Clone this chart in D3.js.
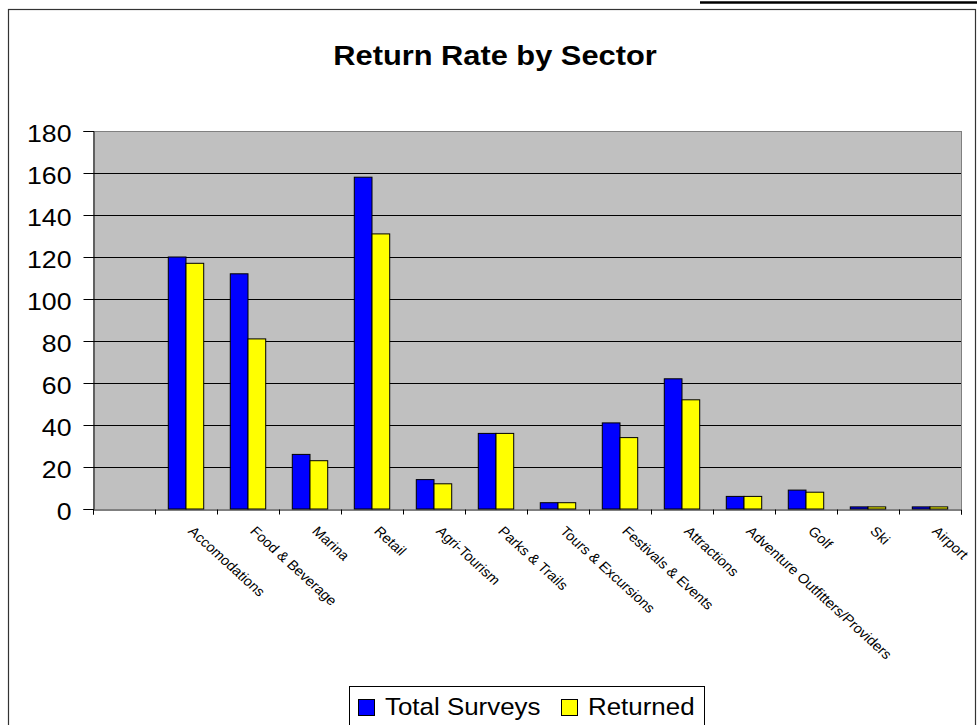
<!DOCTYPE html>
<html><head><meta charset="utf-8">
<script src="https://cdn.jsdelivr.net/npm/d3@7"></script>
<style>body{margin:0;background:#fff}svg{display:block}</style>
</head><body>
<svg id="c" width="977" height="725"></svg>
<script>
const categories = ["", "Accomodations", "Food & Beverage", "Marina", "Retail", "Agri-Tourism", "Parks & Trails", "Tours & Excursions", "Festivals & Events", "Attractions", "Adventure Outfitters/Providers", "Golf", "Ski", "Airport"];
const totalSurveys = [null, 120, 112, 26, 158, 14, 36, 3, 41, 62, 6, 9, 1, 1];
const returned = [null, 117, 81, 23, 131, 12, 36, 3, 34, 52, 6, 8, 1, 1];
const seriesNames = ["Total Surveys", "Returned"];
const seriesColors = ["#0000FF", "#FFFF00"];
const yTicks = [0, 20, 40, 60, 80, 100, 120, 140, 160, 180];
const chartTitle = "Return Rate by Sector";

const FONT = "'Liberation Sans', Arial, Helvetica, sans-serif";
const svg = d3.select("#c");
const L = 93, R = 961, T = 131, B = 509;

// outer frame
svg.append("line").attr("x1", 700).attr("x2", 977).attr("y1", 2.5).attr("y2", 2.5)
  .attr("stroke", "#000").attr("stroke-width", 2.5);
svg.append("rect").attr("x", 8.5).attr("y", 9.5).attr("width", 967).attr("height", 740)
  .attr("fill", "none").attr("stroke", "#333").attr("stroke-width", 1.2);

// title
svg.append("text").attr("transform", "translate(495,65) scale(1.1,1)")
  .attr("text-anchor", "middle").attr("font-family", FONT).attr("font-weight", "bold")
  .attr("font-size", 28).attr("fill", "#000").text(chartTitle);

const x = d3.scaleBand().domain(categories).range([L, R]).padding(0);
const xs = d3.scaleBand().domain(seriesNames).range([0, x.bandwidth()]).paddingInner(0).paddingOuter(0.75);
const y = d3.scaleLinear().domain([0, 180]).range([B, T]);
const crisp = v => Math.round(v) + 0.5;

// plot area
svg.append("rect").attr("x", L).attr("y", T).attr("width", R - L).attr("height", B - T).attr("fill", "#C0C0C0");

// gridlines
svg.append("g").selectAll("line").data(yTicks.filter(t => t > 0)).join("line")
  .attr("x1", L).attr("x2", R).attr("y1", d => crisp(y(d))).attr("y2", d => crisp(y(d)))
  .attr("stroke", d => d === 180 ? "#808080" : "#000").attr("stroke-width", 1);
// right border
svg.append("line").attr("x1", crisp(R)).attr("x2", crisp(R)).attr("y1", T).attr("y2", B)
  .attr("stroke", "#808080");

// bars
const series = [totalSurveys, returned];
const barG = svg.append("g");
series.forEach((vals, si) => {
  barG.append("g").selectAll("rect")
    .data(categories.map((c, i) => ({ c, v: vals[i] })).filter(d => d.v != null))
    .join("rect")
    .attr("x", d => x(d.c) + xs(seriesNames[si]))
    .attr("y", d => y(d.v))
    .attr("width", xs.bandwidth())
    .attr("height", d => y(0) - y(d.v))
    .attr("fill", seriesColors[si])
    .attr("stroke", "#000").attr("stroke-width", 1);
});

// y axis
const yAxis = d3.axisLeft(y).tickValues(yTicks).tickSize(10).tickFormat("");
const yg = svg.append("g").attr("transform", `translate(${crisp(L)},0)`).call(yAxis);
yg.select(".domain").attr("stroke", "#000");
yg.selectAll(".tick line").attr("stroke", "#000");
svg.append("g").selectAll("text").data(yTicks).join("text")
  .attr("transform", d => `translate(71.5,${y(d) + 10.5}) scale(1.16,1)`)
  .attr("text-anchor", "end").attr("font-family", FONT).attr("font-size", 23).attr("fill", "#000")
  .text(d => d);

// x axis (category boundary ticks)
const xb = d3.scaleLinear().domain([0, categories.length]).range([L, R]);
const xAxis = d3.axisBottom(xb).tickValues(d3.range(categories.length + 1)).tickSize(5).tickFormat("");
const xg = svg.append("g").attr("transform", `translate(0,${crisp(B)})`).call(xAxis);
xg.selectAll("path,line").attr("stroke", "#000");

// category labels
svg.append("g").selectAll("g").data(categories.filter(c => c !== "")).join("g")
  .attr("transform", d => `translate(${x(d) + x.bandwidth() / 2 + 9},525) scale(1.1,1) rotate(45)`)
  .append("text").attr("x", 0).attr("y", 10).attr("font-family", FONT).attr("font-size", 13.5)
  .attr("fill", "#000").text(d => d);

// legend
const lg = svg.append("g");
lg.append("rect").attr("x", 349.5).attr("y", 686.5).attr("width", 355).attr("height", 60)
  .attr("fill", "#fff").attr("stroke", "#000");
const legX = [358, 561];
seriesNames.forEach((n, i) => {
  lg.append("rect").attr("x", legX[i] + 0.5).attr("y", 699.5).attr("width", 16).attr("height", 16)
    .attr("fill", seriesColors[i]).attr("stroke", "#000");
  lg.append("text").attr("transform", `translate(${legX[i] + 27},715) scale(1.08,1)`)
    .attr("font-family", FONT).attr("font-size", 24).attr("fill", "#000").text(n);
});
</script>
</body></html>
